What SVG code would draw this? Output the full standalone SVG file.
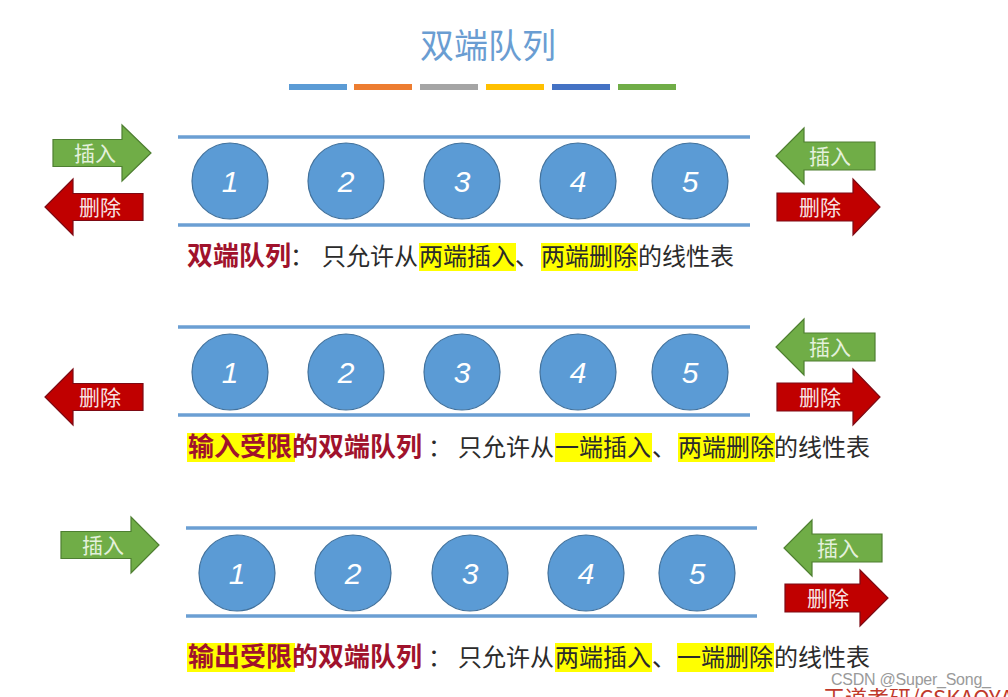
<svg xmlns="http://www.w3.org/2000/svg" width="1008" height="697" viewBox="0 0 1008 697">
<style>
.cjk{font-family:"Noto Sans CJK SC","Noto Sans",sans-serif}
.title{font-size:34px;fill:#6a9dd2}
.bound{stroke:#6b9fd3;stroke-width:3.5;fill:none}
.ball{fill:#5b9bd5;stroke:#41719c;stroke-width:1.2}
.num{font-family:"Liberation Sans",Arial,sans-serif;font-style:italic;font-size:30px;fill:#fff;text-anchor:middle}
.ga{fill:#70ad47;stroke:#4e7f31;stroke-width:1.2}
.ra{fill:#c00000;stroke:#7c0a14;stroke-width:1.2}
.gt{font-size:21px;fill:#e4f1dc;text-anchor:middle}
.rt{font-size:21px;fill:#f7e3e3;text-anchor:middle}
.body{font-size:24px;fill:#2b2b2b}
.red{font-size:26px;fill:#a0122c;font-weight:bold}
.hl{fill:#ffff00}
</style>
<rect width="1008" height="697" fill="#ffffff"/>

<g id="title">
<text class="cjk title" x="488" y="58" text-anchor="middle">双端队列</text>
<rect x="289" y="84" width="58" height="6" fill="#5b9bd5"/>
<rect x="354" y="84" width="58" height="6" fill="#ed7d31"/>
<rect x="420" y="84" width="58" height="6" fill="#a5a5a5"/>
<rect x="486" y="84" width="58" height="6" fill="#ffc000"/>
<rect x="552" y="84" width="58" height="6" fill="#4472c4"/>
<rect x="618" y="84" width="58" height="6" fill="#70ad47"/>
</g>

<g id="connectors">
<line class="bound" x1="178" y1="137" x2="750" y2="137"/>
<line class="bound" x1="178" y1="225" x2="750" y2="225"/>
<line class="bound" x1="178" y1="327" x2="750" y2="327"/>
<line class="bound" x1="178" y1="415" x2="750" y2="415"/>
<line class="bound" x1="186" y1="528" x2="757" y2="528"/>
<line class="bound" x1="186" y1="616" x2="757" y2="616"/>
</g>

<!-- Row 1 -->
<g id="r1-n1"><circle class="ball" cx="230" cy="181" r="38"/><text class="num" x="230" y="192">1</text></g>
<g id="r1-n2"><circle class="ball" cx="346" cy="181" r="38"/><text class="num" x="346" y="192">2</text></g>
<g id="r1-n3"><circle class="ball" cx="462" cy="181" r="38"/><text class="num" x="462" y="192">3</text></g>
<g id="r1-n4"><circle class="ball" cx="578" cy="181" r="38"/><text class="num" x="578" y="192">4</text></g>
<g id="r1-n5"><circle class="ball" cx="690" cy="181" r="38"/><text class="num" x="690" y="192">5</text></g>

<g id="r1-left-insert"><polygon class="ga" points="53,139.5 122,139.5 122,125 151,153 122,181 122,166.5 53,166.5"/><text class="cjk gt" x="95" y="160.5">插入</text></g>
<g id="r1-left-delete"><polygon class="ra" points="143,193.5 73,193.5 73,179 45,207 73,235 73,220.5 143,220.5"/><text class="cjk rt" x="100" y="214.5">删除</text></g>
<g id="r1-right-insert"><polygon class="ga" points="875,142 804,142 804,128 776,156 804,184 804,170 875,170"/><text class="cjk gt" x="830" y="163.5">插入</text></g>
<g id="r1-right-delete"><polygon class="ra" points="777,193 853,193 853,179 880,207 853,235 853,221 777,221"/><text class="cjk rt" x="820" y="214.5">删除</text></g>

<g id="r1-caption">
<rect class="hl" x="419" y="243" width="97" height="28"/>
<rect class="hl" x="541" y="243" width="97" height="28"/>
<text class="cjk red" x="187" y="265">双端队列</text>
<text class="cjk body" x="290" y="265">：</text>
<text class="cjk body" x="322" y="265">只允许从</text>
<text class="cjk body" x="419" y="265">两端插入</text>
<text class="cjk body" x="515" y="265">、</text>
<text class="cjk body" x="541" y="265">两端删除</text>
<text class="cjk body" x="638" y="265">的线性表</text>
</g>

<!-- Row 2 -->
<g id="r2-n1"><circle class="ball" cx="230" cy="372" r="38"/><text class="num" x="230" y="383">1</text></g>
<g id="r2-n2"><circle class="ball" cx="346" cy="372" r="38"/><text class="num" x="346" y="383">2</text></g>
<g id="r2-n3"><circle class="ball" cx="462" cy="372" r="38"/><text class="num" x="462" y="383">3</text></g>
<g id="r2-n4"><circle class="ball" cx="578" cy="372" r="38"/><text class="num" x="578" y="383">4</text></g>
<g id="r2-n5"><circle class="ball" cx="690" cy="372" r="38"/><text class="num" x="690" y="383">5</text></g>

<g id="r2-left-delete"><polygon class="ra" points="143,383.5 73,383.5 73,369 45,397 73,425 73,410.5 143,410.5"/><text class="cjk rt" x="100" y="404.5">删除</text></g>
<g id="r2-right-insert"><polygon class="ga" points="875,333 804,333 804,319 776,347 804,375 804,361 875,361"/><text class="cjk gt" x="830" y="354.5">插入</text></g>
<g id="r2-right-delete"><polygon class="ra" points="777,383 853,383 853,369 880,397 853,425 853,411 777,411"/><text class="cjk rt" x="820" y="404.5">删除</text></g>

<g id="r2-caption">
<rect class="hl" x="187" y="433" width="108" height="29"/>
<rect class="hl" x="555" y="433" width="97" height="29"/>
<rect class="hl" x="678" y="433" width="97" height="29"/>
<text class="cjk red" x="188" y="456">输入受限的双端队列</text>
<text class="cjk body" x="428" y="456">：</text>
<text class="cjk body" x="458" y="456">只允许从</text>
<text class="cjk body" x="555" y="456">一端插入</text>
<text class="cjk body" x="652" y="456">、</text>
<text class="cjk body" x="678" y="456">两端删除</text>
<text class="cjk body" x="774" y="456">的线性表</text>
</g>

<!-- Row 3 -->
<g id="r3-n1"><circle class="ball" cx="237" cy="573" r="38"/><text class="num" x="237" y="584">1</text></g>
<g id="r3-n2"><circle class="ball" cx="353" cy="573" r="38"/><text class="num" x="353" y="584">2</text></g>
<g id="r3-n3"><circle class="ball" cx="470" cy="573" r="38"/><text class="num" x="470" y="584">3</text></g>
<g id="r3-n4"><circle class="ball" cx="586" cy="573" r="38"/><text class="num" x="586" y="584">4</text></g>
<g id="r3-n5"><circle class="ball" cx="697" cy="573" r="38"/><text class="num" x="697" y="584">5</text></g>

<g id="r3-left-insert"><polygon class="ga" points="61,531.5 131,531.5 131,517 159,545 131,573 131,558.5 61,558.5"/><text class="cjk gt" x="103" y="552.5">插入</text></g>
<g id="r3-right-insert"><polygon class="ga" points="882,534 812,534 812,520 784,548 812,576 812,562 882,562"/><text class="cjk gt" x="838" y="555.5">插入</text></g>
<g id="r3-right-delete"><polygon class="ra" points="785,584 860,584 860,570 888,598 860,626 860,612 785,612"/><text class="cjk rt" x="828" y="605.5">删除</text></g>

<g id="r3-caption">
<rect class="hl" x="187" y="643" width="108" height="29"/>
<rect class="hl" x="555" y="643" width="97" height="29"/>
<rect class="hl" x="677" y="643" width="97" height="29"/>
<text class="cjk red" x="188" y="666">输出受限的双端队列</text>
<text class="cjk body" x="428" y="666">：</text>
<text class="cjk body" x="458" y="666">只允许从</text>
<text class="cjk body" x="555" y="666">两端插入</text>
<text class="cjk body" x="652" y="666">、</text>
<text class="cjk body" x="677" y="666">一端删除</text>
<text class="cjk body" x="774" y="666">的线性表</text>
</g>

<g id="watermark">
<text class="cjk" x="823" y="706" font-size="22" fill="#c0392b">王道考研/CSKAOYAN</text>
<text x="831" y="685" font-family="'Liberation Sans',Arial,sans-serif" font-size="16" fill="#9a9a9a" textLength="160">CSDN @Super_Song_</text>
</g>
</svg>
